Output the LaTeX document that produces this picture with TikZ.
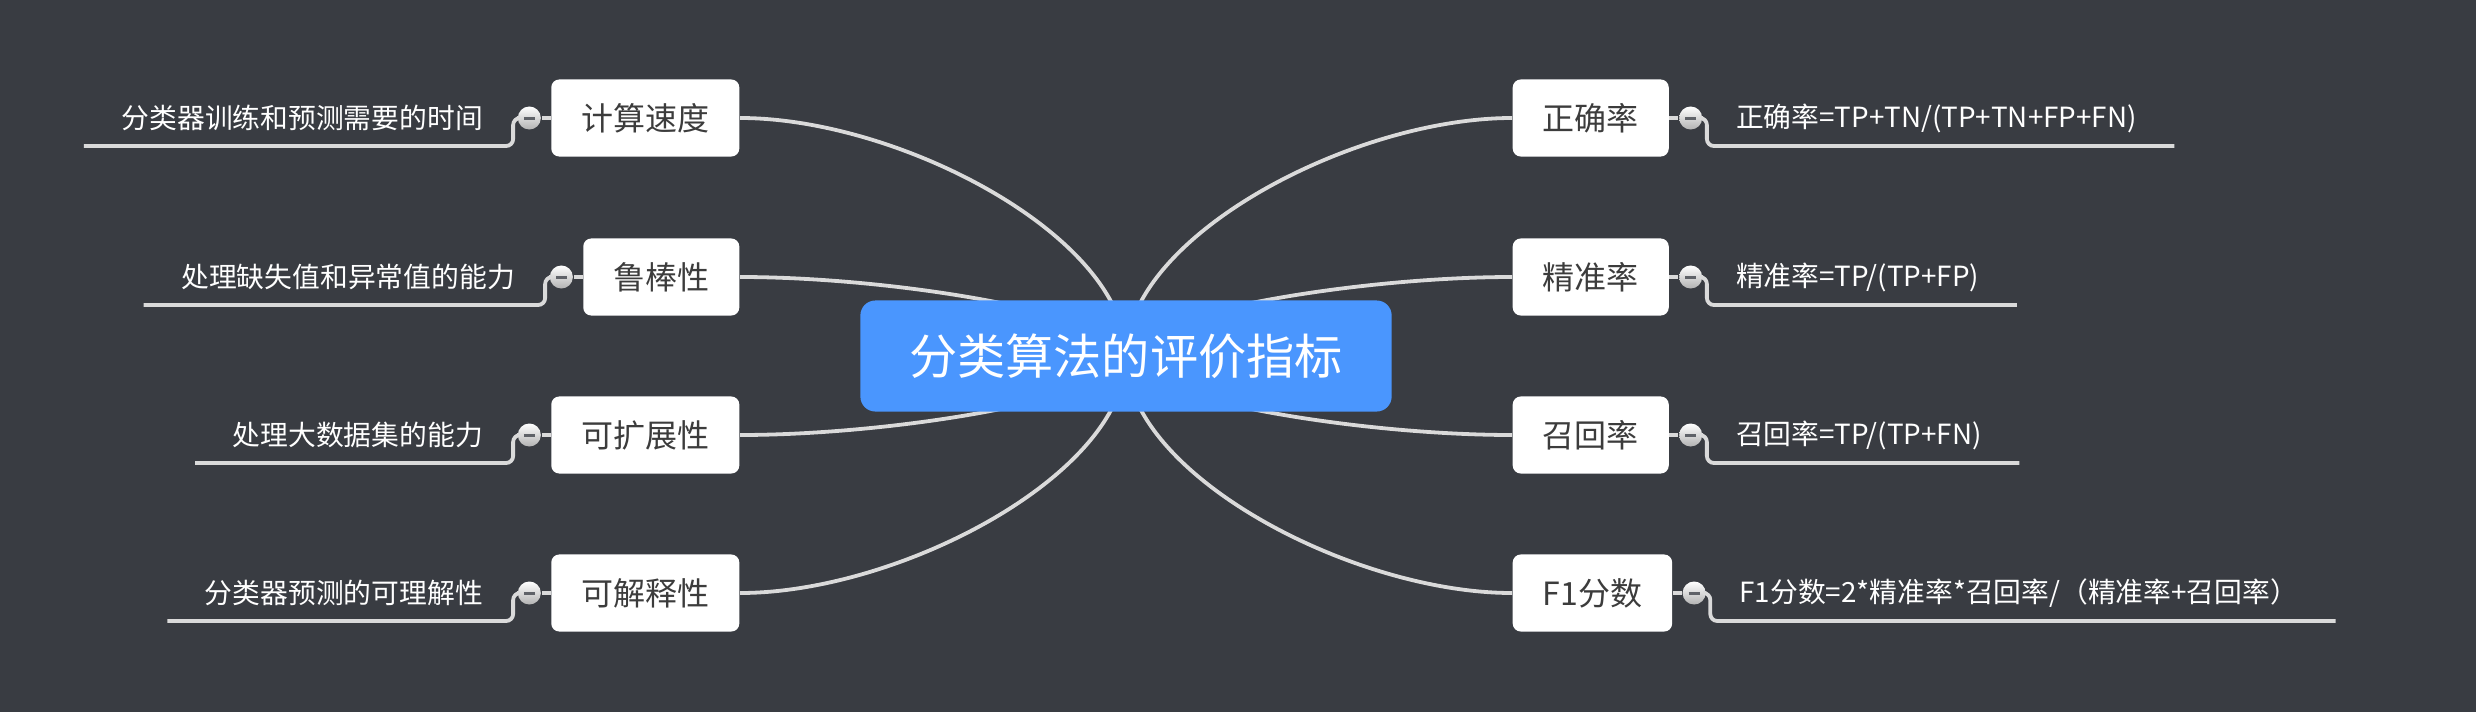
\documentclass[tikz,border=0pt]{standalone}
\usepackage{fontspec}
\setmainfont{Noto Sans CJK SC}
\usetikzlibrary{positioning,calc,backgrounds}
\definecolor{bgdark}{RGB}{57,60,66}
\definecolor{rootblue}{RGB}{74,150,254}
\definecolor{linegray}{RGB}{218,218,218}
\definecolor{textgray}{RGB}{60,60,60}
\definecolor{minusgray}{RGB}{95,98,104}

\begin{document}
\begin{tikzpicture}
[x=0.01cm,y=-0.01cm,
%
root/.style={rectangle,rounded corners=0.15cm,fill=rootblue,text=white,
  minimum width=5.31cm,minimum height=1.11cm,font=\fontsize{13.7pt}{16pt}\selectfont},
kid/.style={rectangle,rounded corners=0.08cm,fill=white,text=textgray,
  minimum height=0.77cm,inner xsep=0.3cm,font=\fontsize{9.1pt}{11pt}\selectfont},
leaf/.style={text=white,inner sep=0pt,font=\fontsize{7.9pt}{9pt}\selectfont},
fold/.style={circle,minimum size=0.23cm,inner sep=0pt,top color=white,bottom color=gray!60,
  path picture={\draw[minusgray,line width=0.03cm]
    ([xshift=-0.055cm]path picture bounding box.center) --
    ([xshift=0.055cm]path picture bounding box.center);}},
%
branch/.style={draw=linegray,line width=0.038cm},
stem/.style={branch,rounded corners=0.07cm}]
%
\useasboundingbox (0,0) rectangle (2476,712);
% root
\node (root) [root] at (1126,356) {分类算法的评价指标};
% left side
\node (k1) [kid,anchor=east] at (740,118) {计算速度};
\node (k2) [kid,anchor=east] at (740,277) {鲁棒性};
\node (k3) [kid,anchor=east] at (740,435) {可扩展性};
\node (k4) [kid,anchor=east] at (740,593) {可解释性};
\foreach \i in {1,...,4}
\node (f\i) [fold,left=0.09cm of k\i] {};
\node (l1) [leaf,left=0.67cm of k1] {分类器训练和预测需要的时间};
\node (l2) [leaf,left=0.67cm of k2] {处理缺失值和异常值的能力};
\node (l3) [leaf,left=0.67cm of k3] {处理大数据集的能力};
\node (l4) [leaf,left=0.67cm of k4] {分类器预测的可理解性};
% right side
\node (k5) [kid,anchor=west] at (1512,118) {正确率};
\node (k6) [kid,anchor=west] at (1512,277) {精准率};
\node (k7) [kid,anchor=west] at (1512,435) {召回率};
\node (k8) [kid,anchor=west] at (1512,593) {F1分数};
\foreach \i in {5,...,8}
\node (f\i) [fold,right=0.09cm of k\i] {};
\node (l5) [leaf,right=0.66cm of k5] {正确率=TP+TN/(TP+TN+FP+FN)};
\node (l6) [leaf,right=0.66cm of k6] {精准率=TP/(TP+FP)};
\node (l7) [leaf,right=0.66cm of k7] {召回率=TP/(TP+FN)};
\node (l8) [leaf,right=0.66cm of k8] {F1分数=2*精准率*召回率/（精准率+召回率）};
% stems
\foreach \i in {1,...,4} {
\draw[branch] (k\i.west) -- (f\i.east);
\draw[stem] (f\i.west) -- ++(-4,0) -- ++(0,28) -- ([shift={(-37,28)}]l\i.west);
}
\foreach \i in {5,...,8} {
\draw[branch] (k\i.east) -- (f\i.west);
\draw[stem] (f\i.east) -- ++(4,0) -- ++(0,28) -- ([shift={(37,28)}]l\i.east);
}
% branches
\begin{pgfonlayer}{background}
\fill[bgdark] (0,0) rectangle (2476,712);
\foreach \k/\dy in {k1/-119,k2/-40,k3/40,k4/118}
\draw[branch] (\k.east) .. controls +(160,0) and +(0,\dy) .. (root.center);
\foreach \k/\dy in {k5/-119,k6/-40,k7/40,k8/118}
\draw[branch] (\k.west) .. controls +(-160,0) and +(0,\dy) .. (root.center);
\end{pgfonlayer}
\end{tikzpicture}
\end{document}
